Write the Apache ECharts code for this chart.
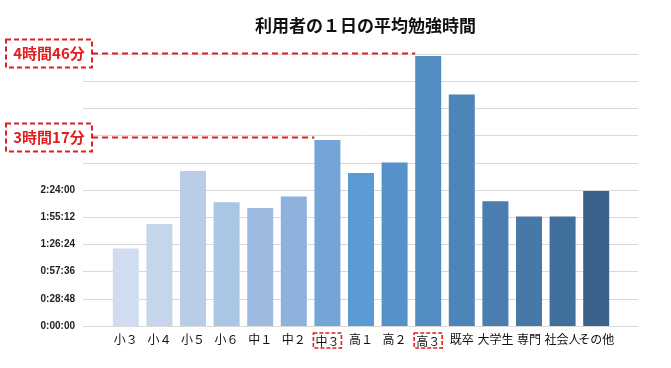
<!DOCTYPE html>
<html><head><meta charset="utf-8">
<script src="https://cdn.jsdelivr.net/npm/echarts@6/dist/echarts.min.js"></script>
<style>html,body{margin:0;padding:0;background:#fff}#c{width:671px;height:368px}</style>
</head><body><div id="c"></div>
<script>
const categories = ['小３','小４','小５','小６','中１','中２','中３','高１','高２','高３','既卒','大学生','専門','社会人','その他'];
// minutes per day
const minutes = [82, 108, 164, 131, 125, 137, 197, 162, 173, 286, 245, 132, 116, 116, 143];
const barColors = ['#d0dcef','#c5d5eb','#b9cde8','#abc5e4','#9dbbe0','#8eb2dc','#74a5d6','#5b9bd5','#5592ca','#528cc0','#4e85b8','#4a7eb0','#4678a8','#406f9c','#3a628b'];
const highlighted = ['中３','高３'];
const annotations = [{cat:'高３', text:'4時間46分'}, {cat:'中３', text:'3時間17分'}];
const yMax = 288, yInterval = 28.8, yLabelMax = 144;

function fmt(v){
  const s = Math.round(v*60);
  const h = Math.floor(s/3600), m = Math.floor((s%3600)/60), sec = s%60;
  return h + ':' + String(m).padStart(2,'0') + ':' + String(sec).padStart(2,'0');
}

const chart = echarts.init(document.getElementById('c'));
chart.setOption({
  animation:false,
  title:{text:'利用者の１日の平均勉強時間', left:250, top:12,
    textStyle:{fontFamily:'Noto Sans CJK JP', fontSize:17, fontWeight:'bold', color:'#111'}},
  grid:[
    {left:109, right:58, top:54, bottom:42},
    {left:83, right:33, top:54, bottom:42}
  ],
  xAxis:[
    {type:'category', data:categories, gridIndex:0,
      axisLine:{show:false}, axisTick:{show:false},
      axisLabel:{margin:7, interval:0, fontFamily:'Noto Sans CJK JP', fontSize:12, color:'#111',
        formatter:v=> highlighted.includes(v) ? '{b|'+v+'}' : v,
        rich:{b:{fontFamily:'Noto Sans CJK JP', fontSize:12, color:'#111',
          borderColor:'#e02020', borderWidth:1.6, borderType:[4,2], padding:[2,2,1,2]}}}},
    {type:'value', gridIndex:1, show:false, min:0, max:1}
  ],
  yAxis:[
    {type:'value', gridIndex:0, min:0, max:yMax, interval:yInterval, show:false, splitLine:{show:false}},
    {type:'value', gridIndex:1, min:0, max:yMax, interval:yInterval,
      axisLine:{show:false}, axisTick:{show:false},
      splitLine:{lineStyle:{color:'#d9d9d9', width:1}},
      axisLabel:{margin:8, fontFamily:'Liberation Sans', fontSize:10, fontWeight:'bold', color:'#222',
        formatter:v=> v <= yLabelMax + 0.01 ? fmt(v) : ''}}
  ],
  series:[{
    type:'bar', xAxisIndex:0, yAxisIndex:0, barWidth:26,
    data: minutes.map((v,i)=>({value:v, itemStyle:{color:barColors[i]}}))
  }]
});

const graphics = [];
annotations.forEach(a=>{
  const idx = categories.indexOf(a.cat);
  const p = chart.convertToPixel({seriesIndex:0}, [idx, minutes[idx]]);
  const y = Math.round(p[1]) - 2.5;
  const barLeft = p[0] - 13;
  const bw = 86, bh = 28, bx = 6;
  graphics.push({type:'line', shape:{x1:bx+bw, y1:y, x2:barLeft, y2:y},
    style:{stroke:'#e02020', lineWidth:2, lineDash:[6,4]}, z:10});
  graphics.push({type:'rect', shape:{x:bx, y:y-bh/2, width:bw, height:bh},
    style:{fill:'#fff', stroke:'#e02020', lineWidth:2, lineDash:[5,3]}, z:10});
  graphics.push({type:'text', x:bx+bw/2, y:y, style:{text:a.text, fill:'#e02020',
    font:'bold 15px "Noto Sans CJK JP"', align:'center', verticalAlign:'middle'}, z:11});
});
chart.setOption({graphic:graphics});
</script>
</body></html>
